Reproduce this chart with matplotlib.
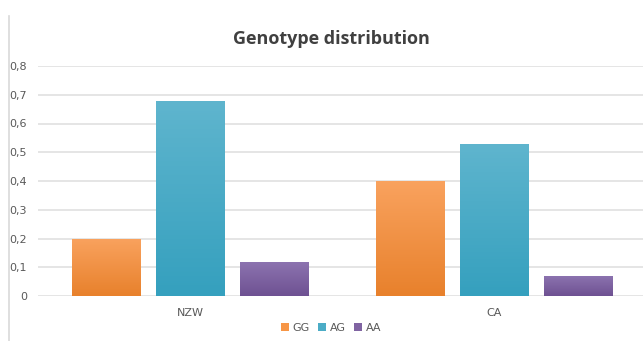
import matplotlib
matplotlib.use("Agg")
import matplotlib.pyplot as plt
import numpy as np
from matplotlib.colors import LinearSegmentedColormap
from matplotlib.patches import Patch
from matplotlib.lines import Line2D

categories = ["NZW", "CA"]
series = ["GG", "AG", "AA"]
GG = [0.20, 0.40]
AG = [0.68, 0.53]
AA = [0.12, 0.07]
yticks = [0, 0.1, 0.2, 0.3, 0.4, 0.5, 0.6, 0.7, 0.8]
ytick_labels = ["0", "0,1", "0,2", "0,3", "0,4", "0,5", "0,6", "0,7", "0,8"]
title = "Genotype distribution"

colors = {"GG": ("#F9A25E", "#E8812C"), "AG": ("#5FB5CE", "#35A0BE"), "AA": ("#8D74B0", "#6E5192")}
legend_colors = {"GG": "#F79646", "AG": "#4BACC6", "AA": "#8064A2"}

W, H = 643, 341
fig = plt.figure(figsize=(W / 100, H / 100), dpi=100)
fig.patch.set_facecolor("white")

ax_left, ax_right = 38, 643
ax_bottom, ax_top = 296, 66
ax = fig.add_axes([ax_left / W, 1 - ax_bottom / H, (ax_right - ax_left) / W, (ax_bottom - ax_top) / H])
ax.patch.set_alpha(0)
for s in ax.spines.values():
    s.set_visible(False)

for t in yticks:
    ax.axhline(t, color="#DEDEDE", lw=1.1, zorder=0)

x = np.arange(len(categories))
width = 0.224
offsets = [-0.276, 0.0, 0.276]
values = {"GG": GG, "AG": AG, "AA": AA}
grad = np.linspace(0, 1, 100).reshape(-1, 1)
for name, off in zip(series, offsets):
    top_c, bot_c = colors[name]
    cmap = LinearSegmentedColormap.from_list(name, [bot_c, top_c])
    bars = ax.bar(x + off, values[name], width=width, color=legend_colors[name], zorder=2,
                  edgecolor="none")
    for b in bars:
        x0, y0 = b.get_x(), b.get_y()
        w, h = b.get_width(), b.get_height()
        im = ax.imshow(grad, extent=[x0, x0 + w, y0, y0 + h], origin="lower", cmap=cmap,
                       aspect="auto", zorder=3)
        im.set_clip_path(b)
ax.set_xlim(-0.5, 1.49)
ax.set_ylim(0, 0.8)

ax.set_yticks(yticks)
ax.set_yticklabels(ytick_labels)
ax.set_xticks(x)
ax.set_xticklabels(categories)
ax.tick_params(axis="y", length=0, pad=8, labelsize=8, labelcolor="#595959")
ax.tick_params(axis="x", length=0, pad=9, labelsize=8, labelcolor="#595959")

fig.text(331 / W, 1 - 39 / H, title, ha="center", va="center", fontsize=13,
         fontweight="bold", color="#404040", family="Open Sans")

handles = [Patch(facecolor=legend_colors[s], edgecolor="none") for s in series]
leg = fig.legend(handles, series, loc="center", bbox_to_anchor=(331 / W, 1 - 328 / H), ncol=3,
                 frameon=False, fontsize=8, handlelength=0.7, handleheight=0.7,
                 handletextpad=0.3, columnspacing=0.8, labelcolor="#595959")

fig.add_artist(Line2D([8.5 / W, 8.5 / W], [0, 1 - 16 / H], transform=fig.transFigure,
                      color="#D9D9D9", lw=1.2))

fig.savefig("out.png", dpi=100, facecolor="white")
